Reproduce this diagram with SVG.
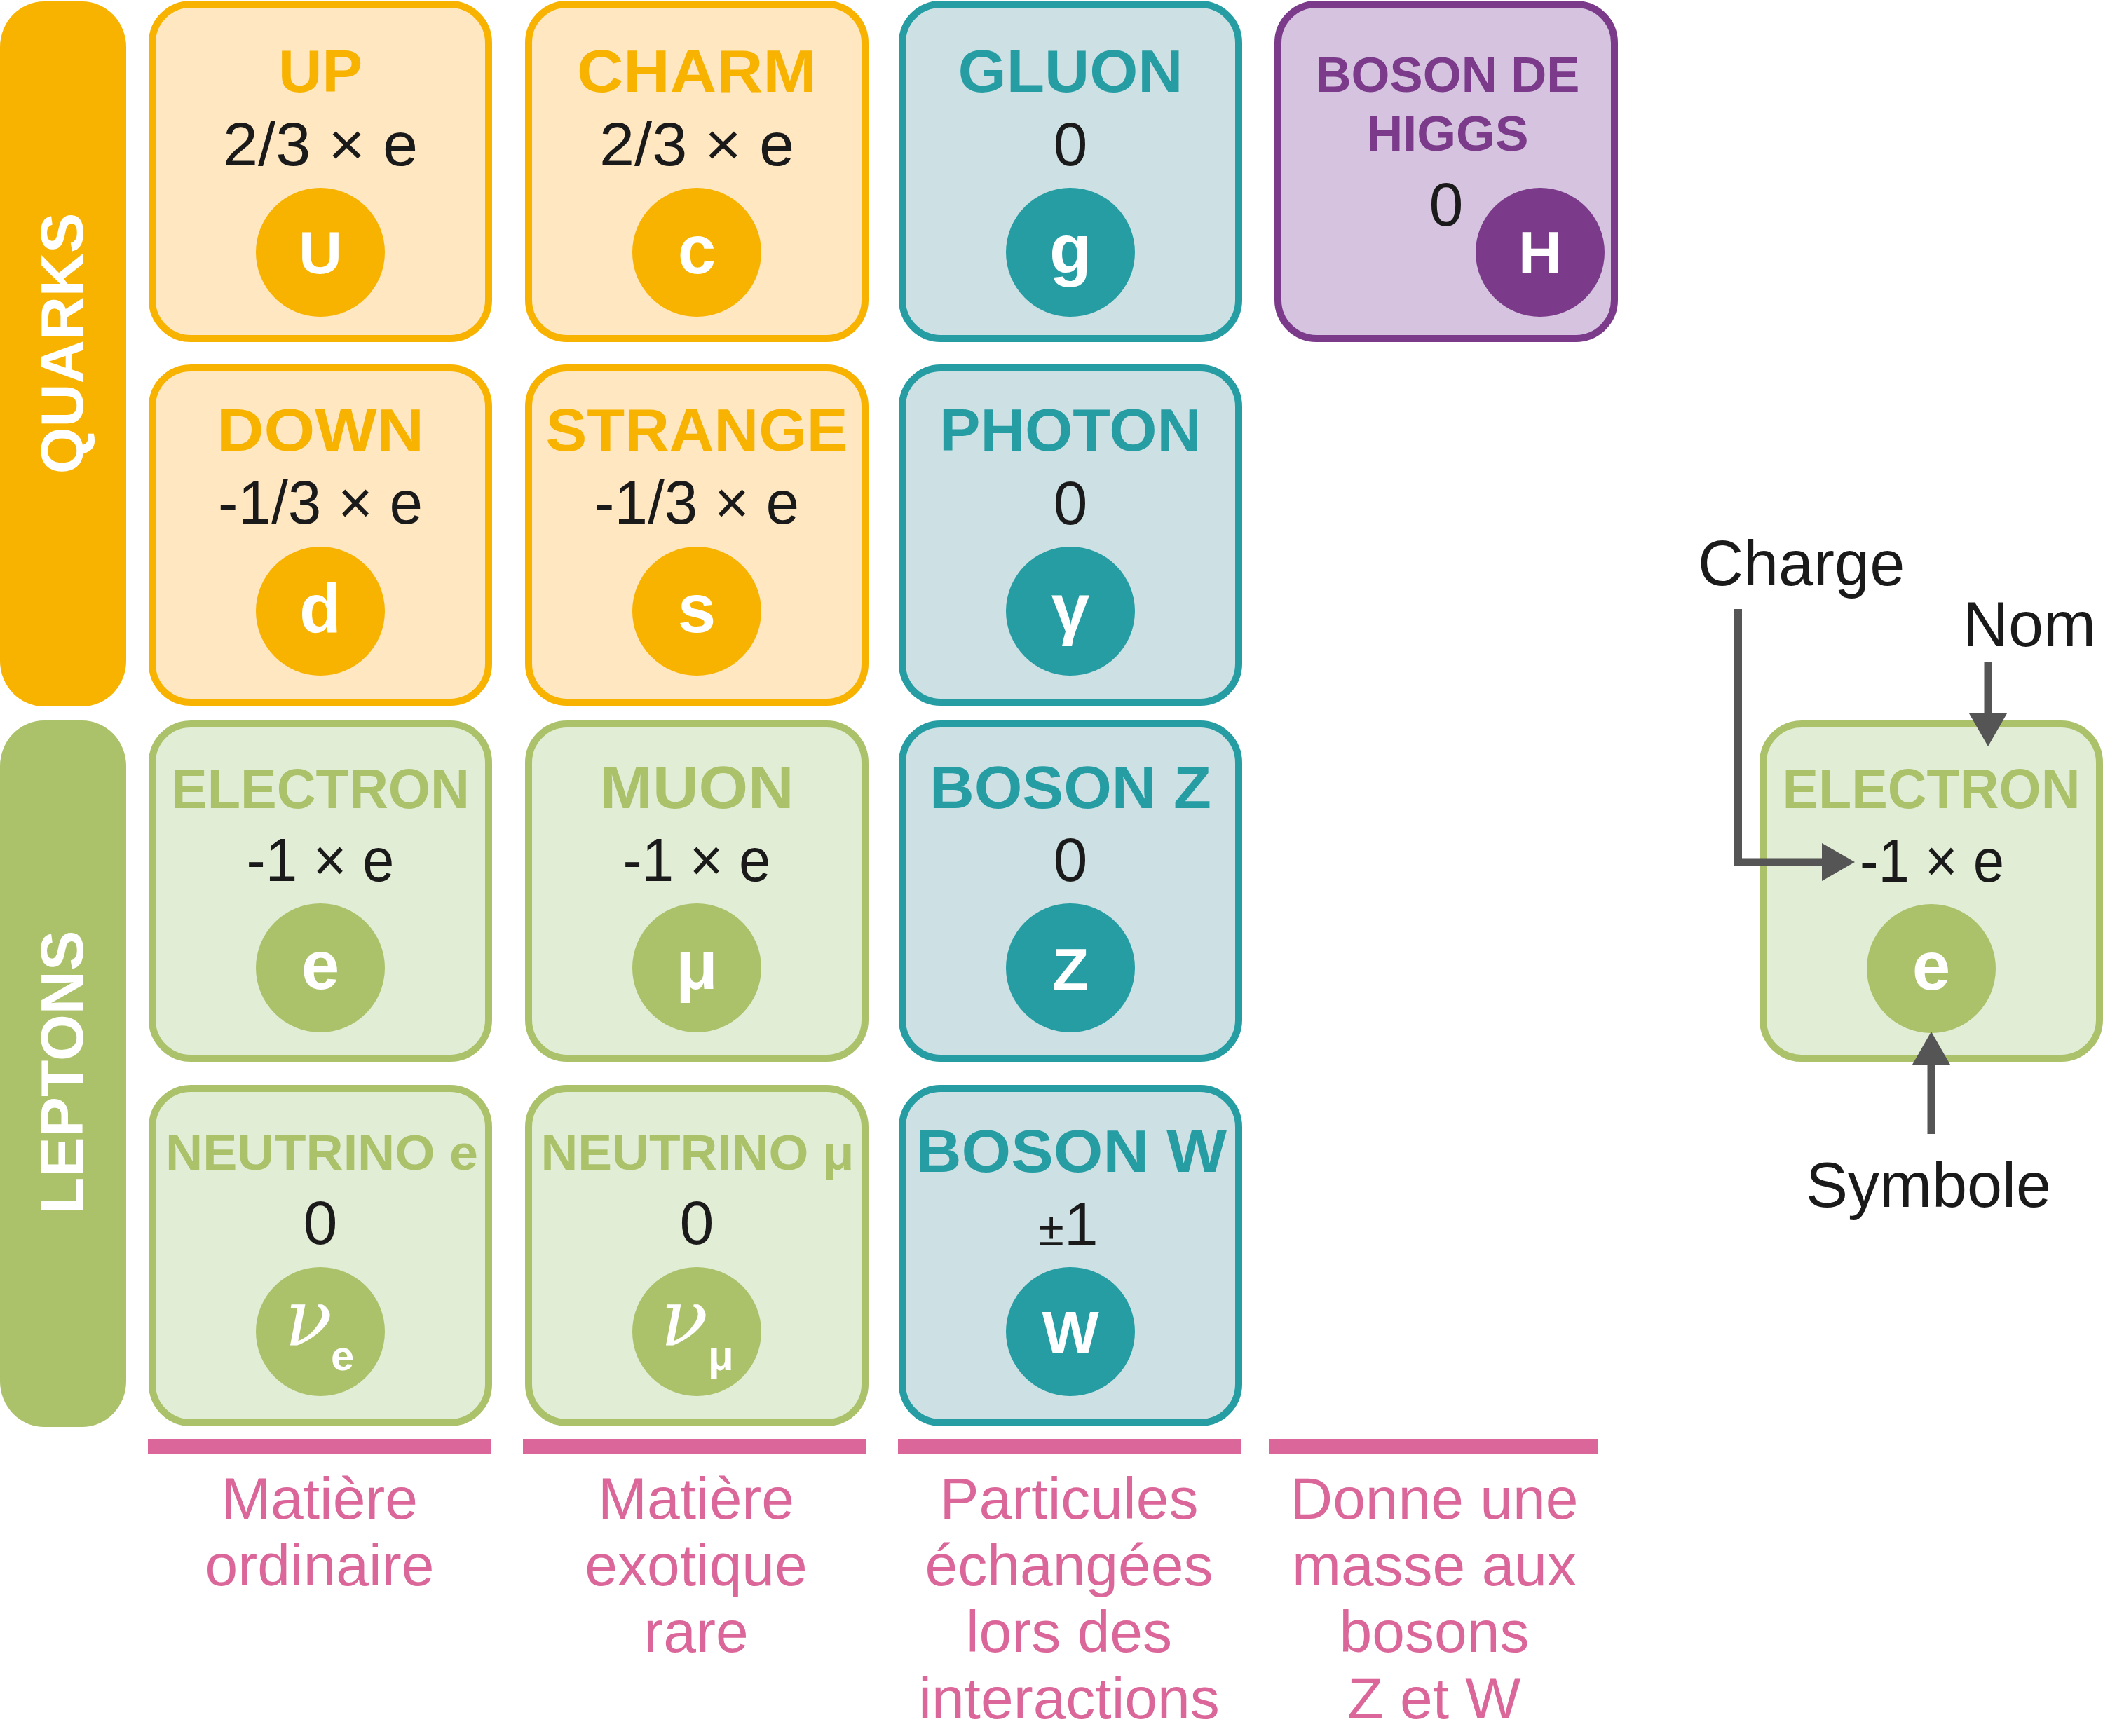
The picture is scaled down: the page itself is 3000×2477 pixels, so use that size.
<svg xmlns="http://www.w3.org/2000/svg" width="3000" height="2477" viewBox="0 0 3000 2477">
<style>
.card{stroke-width:10}
.qc{fill:#FEE7C1;stroke:#F8B200}
.lc{fill:#E2EDD5;stroke:#ABC26B}
.bc{fill:#CDE0E4;stroke:#259DA3}
.hc{fill:#D5C3DF;stroke:#7B3A8A}
.qf{fill:#F8B200}
.lf{fill:#ABC26B}
.bf{fill:#259DA3}
.hf{fill:#7B3A8A}
.title{font-family:"Liberation Sans",Arial,sans-serif;font-weight:bold;font-size:86px;text-anchor:middle}
.charge{font-family:"Liberation Sans",Arial,sans-serif;font-size:88px;fill:#1a1a1a;text-anchor:middle}
.sym{font-family:"Liberation Sans",Arial,sans-serif;font-weight:bold;font-size:86px;fill:#fff;text-anchor:middle}
.syml{font-size:98px}
.nu{font-family:"DejaVu Serif",serif;font-style:italic;font-size:112px;fill:#fff;text-anchor:middle}
.sub{font-family:"Liberation Sans",Arial,sans-serif;font-weight:bold;font-size:60px;fill:#fff}
.side{font-family:"Liberation Sans",Arial,sans-serif;font-weight:bold;font-size:86px;fill:#fff;text-anchor:middle}
.note{font-family:"Liberation Sans",Arial,sans-serif;font-size:84px;fill:#DB6699;text-anchor:middle}
.bar{fill:#DB6699}
.lab{font-family:"Liberation Sans",Arial,sans-serif;font-size:90px;fill:#1a1a1a}
.conn{fill:none;stroke:#555555;stroke-width:11;stroke-linejoin:miter}
</style>
<defs>
<marker id="ah" markerUnits="userSpaceOnUse" viewBox="0 0 47 54" markerWidth="47" markerHeight="54" refX="0" refY="27" orient="auto">
<path d="M0,0 L47,27 L0,54 Z" fill="#555555"/>
</marker>
</defs>

<g id="side-quarks">
<rect x="0" y="2" width="180" height="1006" rx="63" ry="65" class="qf"/>
<text class="side" transform="translate(118,490) rotate(-90)">QUARKS</text>
</g>
<g id="side-leptons">
<rect x="0" y="1028" width="180" height="1008" rx="63" ry="65" class="lf"/>
<text class="side" transform="translate(118,1530) rotate(-90)">LEPTONS</text>
</g>

<!-- Row 1 -->
<g id="up">
<rect class="card qc" x="217" y="6" width="480" height="477" rx="55"/>
<text class="title qf" x="457" y="131" textLength="120" lengthAdjust="spacingAndGlyphs">UP</text>
<text class="charge" x="457" y="236" textLength="278" lengthAdjust="spacingAndGlyphs">2/3 × e</text>
<circle class="qf" cx="457" cy="360" r="92"/>
<text class="sym" x="457" y="390">U</text>
</g>
<g id="charm">
<rect class="card qc" x="754" y="6" width="480" height="477" rx="55"/>
<text class="title qf" x="994" y="131" textLength="342" lengthAdjust="spacingAndGlyphs">CHARM</text>
<text class="charge" x="994" y="236" textLength="278" lengthAdjust="spacingAndGlyphs">2/3 × e</text>
<circle class="qf" cx="994" cy="360" r="92"/>
<text class="sym syml" x="994" y="390">c</text>
</g>
<g id="gluon">
<rect class="card bc" x="1287" y="6" width="480" height="477" rx="55"/>
<text class="title bf" x="1527" y="131" textLength="321" lengthAdjust="spacingAndGlyphs">GLUON</text>
<text class="charge" x="1527" y="236">0</text>
<circle class="bf" cx="1527" cy="360" r="92"/>
<text class="sym syml" x="1527" y="390">g</text>
</g>
<g id="higgs">
<rect class="card hc" x="1823" y="6" width="480" height="477" rx="55"/>
<text class="title hf" x="2065" y="131" style="font-size:71px" textLength="377" lengthAdjust="spacingAndGlyphs">BOSON DE</text>
<text class="title hf" x="2065" y="215" style="font-size:71px" textLength="231" lengthAdjust="spacingAndGlyphs">HIGGS</text>
<text class="charge" x="2063" y="322">0</text>
<circle class="hf" cx="2197" cy="360" r="92"/>
<text class="sym" x="2197" y="390">H</text>
</g>

<!-- Row 2 -->
<g id="down">
<rect class="card qc" x="217" y="525" width="480" height="477" rx="55"/>
<text class="title qf" x="457" y="643" textLength="296" lengthAdjust="spacingAndGlyphs">DOWN</text>
<text class="charge" x="457" y="747" textLength="292" lengthAdjust="spacingAndGlyphs">-1/3 × e</text>
<circle class="qf" cx="457" cy="872" r="92"/>
<text class="sym syml" x="457" y="902">d</text>
</g>
<g id="strange">
<rect class="card qc" x="754" y="525" width="480" height="477" rx="55"/>
<text class="title qf" x="994" y="643" textLength="431" lengthAdjust="spacingAndGlyphs">STRANGE</text>
<text class="charge" x="994" y="747" textLength="292" lengthAdjust="spacingAndGlyphs">-1/3 × e</text>
<circle class="qf" cx="994" cy="872" r="92"/>
<text class="sym syml" x="994" y="902">s</text>
</g>
<g id="photon">
<rect class="card bc" x="1287" y="525" width="480" height="477" rx="55"/>
<text class="title bf" x="1527" y="643" textLength="374" lengthAdjust="spacingAndGlyphs">PHOTON</text>
<text class="charge" x="1527" y="748">0</text>
<circle class="bf" cx="1527" cy="872" r="92"/>
<text class="sym syml" x="1527" y="902">γ</text>
</g>

<!-- Row 3 -->
<g id="electron">
<rect class="card lc" x="217" y="1033" width="480" height="477" rx="55"/>
<text class="title lf" x="457" y="1153" style="font-size:80px" textLength="426" lengthAdjust="spacingAndGlyphs">ELECTRON</text>
<text class="charge" x="457" y="1257" textLength="211" lengthAdjust="spacingAndGlyphs">-1 × e</text>
<circle class="lf" cx="457" cy="1381" r="92"/>
<text class="sym syml" x="457" y="1411">e</text>
</g>
<g id="muon">
<rect class="card lc" x="754" y="1033" width="480" height="477" rx="55"/>
<text class="title lf" x="994" y="1153" textLength="277" lengthAdjust="spacingAndGlyphs">MUON</text>
<text class="charge" x="994" y="1257" textLength="211" lengthAdjust="spacingAndGlyphs">-1 × e</text>
<circle class="lf" cx="994" cy="1381" r="92"/>
<text class="sym syml" x="994" y="1411">μ</text>
</g>
<g id="bosonz">
<rect class="card bc" x="1287" y="1033" width="480" height="477" rx="55"/>
<text class="title bf" x="1527" y="1153" textLength="402" lengthAdjust="spacingAndGlyphs">BOSON Z</text>
<text class="charge" x="1527" y="1257">0</text>
<circle class="bf" cx="1527" cy="1381" r="92"/>
<text class="sym" x="1527" y="1413">Z</text>
</g>

<!-- Row 4 -->
<g id="neutrino-e">
<rect class="card lc" x="217" y="1553" width="480" height="477" rx="55"/>
<text class="title lf" x="459" y="1669" style="font-size:70px" textLength="446" lengthAdjust="spacingAndGlyphs">NEUTRINO e</text>
<text class="charge" x="457" y="1775">0</text>
<circle class="lf" cx="457" cy="1900" r="92"/>
<text class="nu" x="440" y="1920">ν</text>
<text class="sub" x="472" y="1955">e</text>
</g>
<g id="neutrino-mu">
<rect class="card lc" x="754" y="1553" width="480" height="477" rx="55"/>
<text class="title lf" x="995" y="1669" style="font-size:70px" textLength="447" lengthAdjust="spacingAndGlyphs">NEUTRINO μ</text>
<text class="charge" x="994" y="1775">0</text>
<circle class="lf" cx="994" cy="1900" r="92"/>
<text class="nu" x="976" y="1920">ν</text>
<text class="sub" x="1010" y="1955">μ</text>
</g>
<g id="bosonw">
<rect class="card bc" x="1287" y="1553" width="480" height="477" rx="55"/>
<text class="title bf" x="1528" y="1672" textLength="444" lengthAdjust="spacingAndGlyphs">BOSON W</text>
<text class="charge" x="1524" y="1777"><tspan style="font-size:66px">±</tspan>1</text>
<circle class="bf" cx="1527" cy="1900" r="92"/>
<text class="sym" x="1527" y="1931">W</text>
</g>

<!-- Legend card -->
<g id="legend-electron">
<rect class="card lc" x="2515" y="1033" width="480" height="477" rx="55"/>
<text class="title lf" x="2755" y="1153" style="font-size:80px" textLength="425" lengthAdjust="spacingAndGlyphs">ELECTRON</text>
<text class="charge" x="2756" y="1258" textLength="206" lengthAdjust="spacingAndGlyphs">-1 × e</text>
<circle class="lf" cx="2755" cy="1382" r="92"/>
<text class="sym syml" x="2755" y="1412">e</text>
</g>
<g id="label-charge"><text class="lab" x="2422" y="835">Charge</text></g>
<g id="label-nom"><text class="lab" x="2800" y="922">Nom</text></g>
<g id="label-symbole"><text class="lab" x="2751" y="1722" text-anchor="middle">Symbole</text></g>

<g id="connectors">
<path class="conn" d="M2479.5,869 V1230 H2599" marker-end="url(#ah)"/>
<path class="conn" d="M2836,944 V1018" marker-end="url(#ah)"/>
<path class="conn" d="M2755,1618 V1519" marker-end="url(#ah)"/>
</g>

<!-- Category bars and notes -->
<g id="cat-ordinaire">
<rect class="bar" x="211" y="2053" width="489" height="21"/>
<text class="note" x="456" y="2167">Matière</text>
<text class="note" x="456" y="2262">ordinaire</text>
</g>
<g id="cat-exotique">
<rect class="bar" x="746" y="2053" width="489" height="21"/>
<text class="note" x="993" y="2167">Matière</text>
<text class="note" x="993" y="2262">exotique</text>
<text class="note" x="993" y="2357">rare</text>
</g>
<g id="cat-interactions">
<rect class="bar" x="1281" y="2053" width="489" height="21"/>
<text class="note" x="1525" y="2167">Particules</text>
<text class="note" x="1525" y="2262">échangées</text>
<text class="note" x="1525" y="2357">lors des</text>
<text class="note" x="1525" y="2452">interactions</text>
</g>
<g id="cat-masse">
<rect class="bar" x="1810" y="2053" width="470" height="21"/>
<text class="note" x="2046" y="2167">Donne une</text>
<text class="note" x="2046" y="2262">masse aux</text>
<text class="note" x="2046" y="2357">bosons</text>
<text class="note" x="2046" y="2452">Z et W</text>
</g>
</svg>
